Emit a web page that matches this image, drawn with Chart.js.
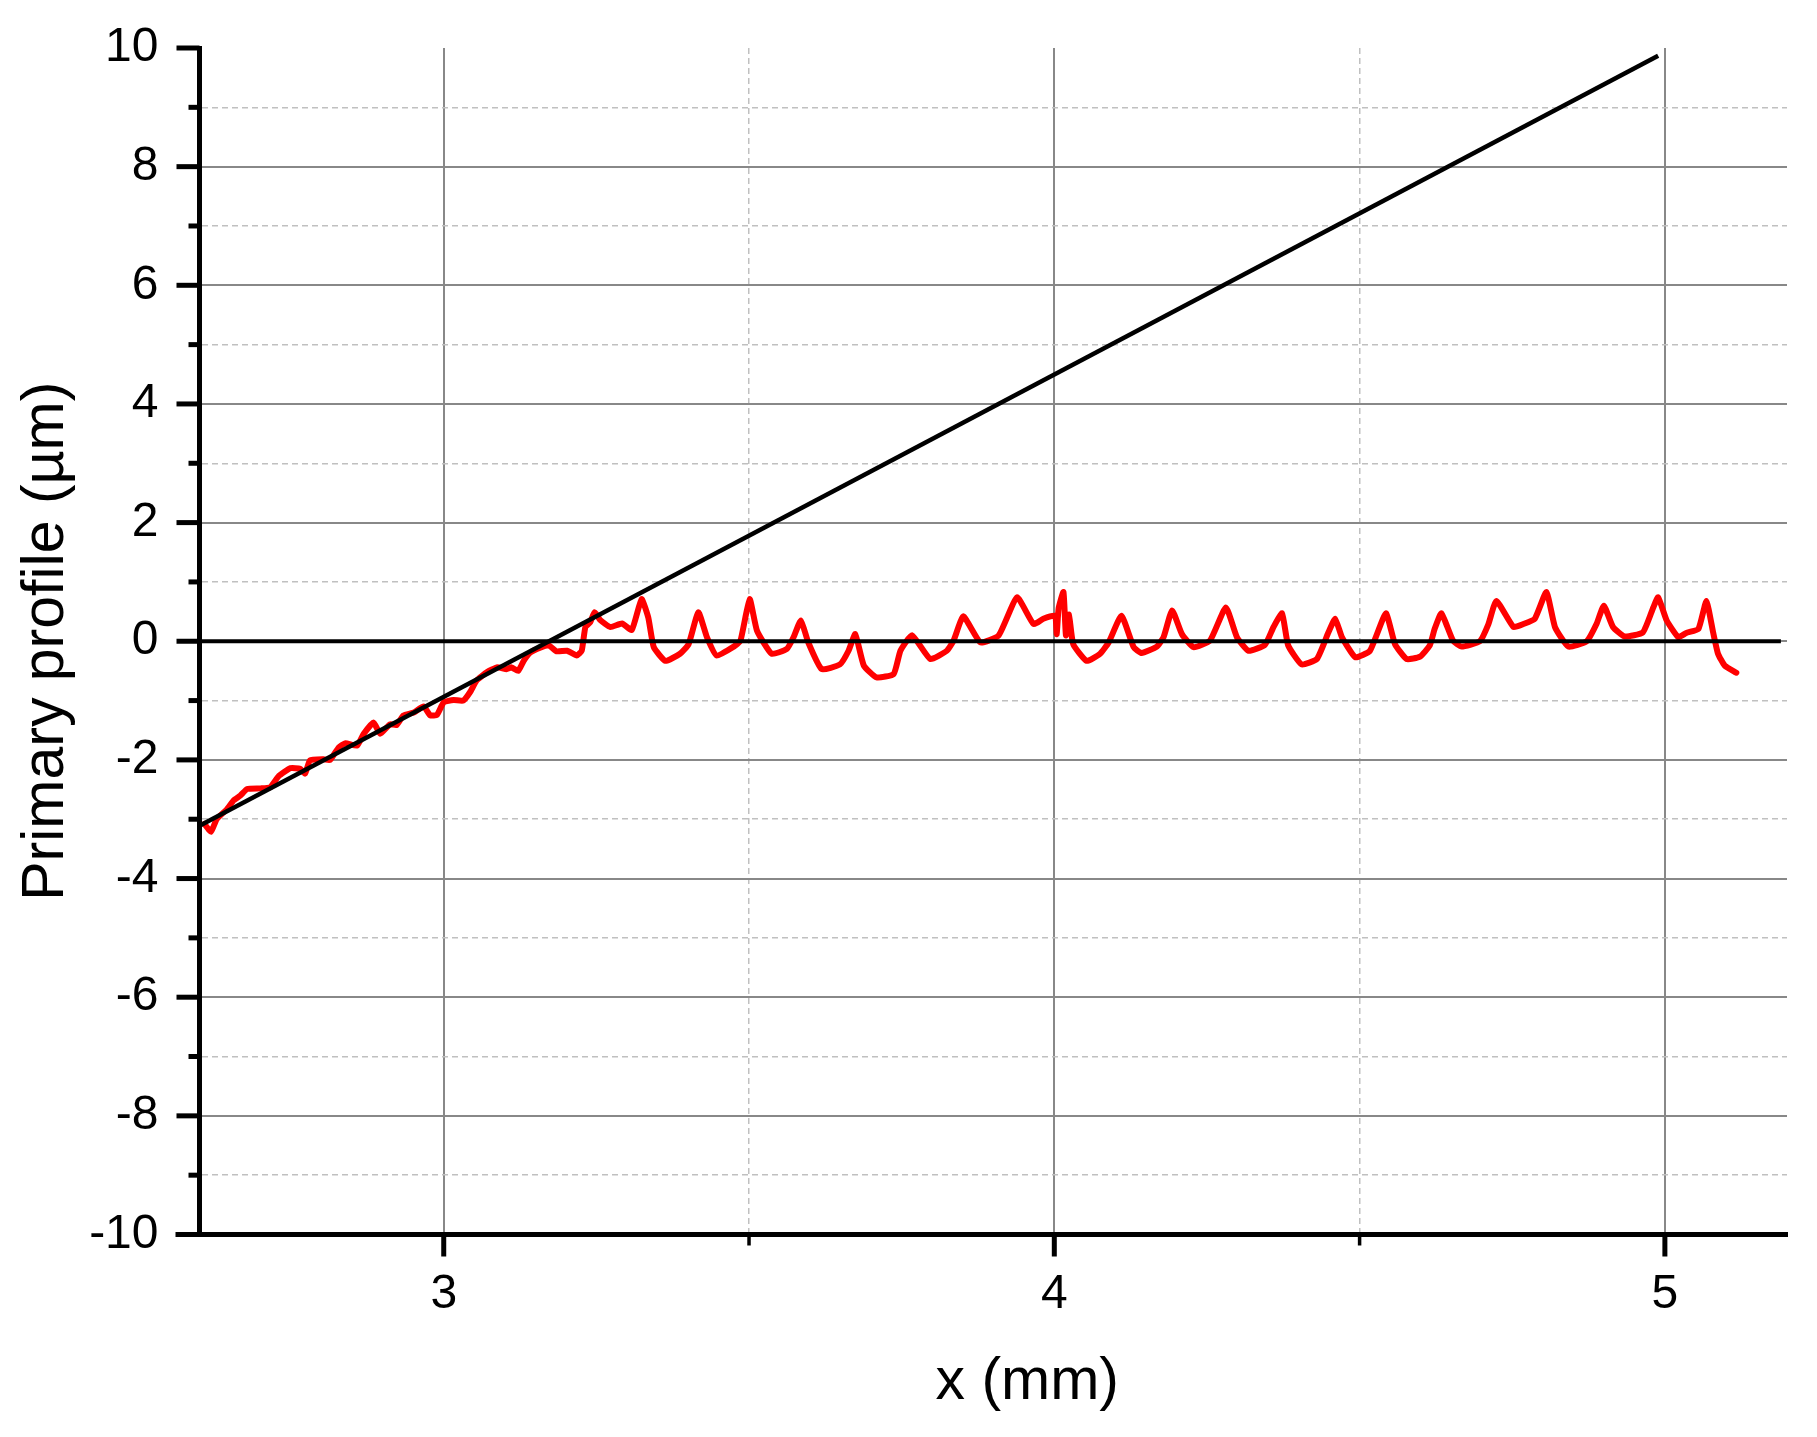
<!DOCTYPE html>
<html>
<head>
<meta charset="utf-8">
<title>Primary profile</title>
<script src="https://cdn.jsdelivr.net/npm/chart.js@4.4.1/dist/chart.umd.min.js"></script>
<style>
    body { margin: 0; background: #fff; }
    #wrap { width: 1817px; height: 1437px; }
</style>
</head>
<body>
<div id="wrap"><canvas id="profileChart"></canvas></div>
<script>
const profileX = [
    2.608, 2.619, 2.628, 2.645, 2.656, 2.667, 2.678, 2.700, 2.716, 2.730,
    2.749, 2.765, 2.773, 2.781, 2.803, 2.814, 2.828, 2.839, 2.858, 2.869,
    2.885, 2.896, 2.912, 2.923, 2.934, 2.951, 2.967, 2.978, 2.989, 3.000,
    3.016, 3.032, 3.043, 3.054, 3.071, 3.087, 3.103, 3.111, 3.122, 3.131,
    3.142, 3.158, 3.172, 3.185, 3.202, 3.218, 3.226, 3.232, 3.240, 3.247,
    3.256, 3.273, 3.292, 3.308, 3.324, 3.335, 3.344, 3.363, 3.387, 3.401,
    3.417, 3.431, 3.447, 3.475, 3.486, 3.501, 3.513, 3.537, 3.562, 3.573,
    3.585, 3.597, 3.619, 3.649, 3.663, 3.674, 3.688, 3.709, 3.737, 3.748,
    3.767, 3.797, 3.824, 3.835, 3.851, 3.879, 3.909, 3.939, 3.966, 3.982,
    4.001, 4.004, 4.007, 4.015, 4.019, 4.024, 4.031, 4.053, 4.075, 4.089,
    4.110, 4.130, 4.143, 4.168, 4.179, 4.193, 4.209, 4.228, 4.255, 4.281,
    4.299, 4.318, 4.345, 4.359, 4.373, 4.383, 4.405, 4.430, 4.449, 4.460,
    4.471, 4.493, 4.517, 4.543, 4.558, 4.577, 4.599, 4.615, 4.623, 4.634,
    4.653, 4.667, 4.697, 4.711, 4.724, 4.752, 4.768, 4.787, 4.806, 4.820,
    4.842, 4.872, 4.888, 4.900, 4.915, 4.934, 4.964, 4.981, 4.989, 5.003,
    5.022, 5.035, 5.055, 5.068, 5.079, 5.087, 5.098, 5.117
];
const profileY = [
    -3.08, -3.21, -3.00, -2.83, -2.68, -2.60, -2.49, -2.48, -2.46, -2.27,
    -2.14, -2.15, -2.23, -2.01, -1.99, -2.00, -1.79, -1.72, -1.76, -1.56,
    -1.37, -1.56, -1.40, -1.41, -1.25, -1.20, -1.10, -1.25, -1.24, -1.03,
    -0.99, -1.00, -0.86, -0.66, -0.52, -0.44, -0.47, -0.44, -0.50, -0.33,
    -0.19, -0.11, -0.07, -0.17, -0.16, -0.24, -0.16, 0.24, 0.32, 0.49,
    0.36, 0.24, 0.30, 0.19, 0.71, 0.40, -0.10, -0.33, -0.21, -0.05,
    0.49, 0.07, -0.24, -0.09, 0.01, 0.71, 0.18, -0.21, -0.13, 0.07,
    0.35, -0.02, -0.47, -0.39, -0.16, 0.12, -0.41, -0.61, -0.55, -0.16,
    0.10, -0.30, -0.16, 0.01, 0.42, -0.02, 0.10, 0.74, 0.29, 0.38,
    0.43, 0.12, 0.55, 0.83, 0.10, 0.45, -0.05, -0.33, -0.21, -0.02,
    0.43, -0.10, -0.20, -0.09, 0.07, 0.52, 0.12, -0.10, 0.01, 0.57,
    0.07, -0.16, -0.06, 0.24, 0.47, -0.07, -0.39, -0.30, 0.15, 0.38,
    0.07, -0.27, -0.16, 0.47, -0.05, -0.30, -0.26, -0.07, 0.21, 0.47,
    0.01, -0.09, 0.00, 0.29, 0.68, 0.24, 0.29, 0.38, 0.83, 0.24,
    -0.09, 0.00, 0.29, 0.60, 0.24, 0.08, 0.15, 0.57, 0.74, 0.35,
    0.07, 0.14, 0.21, 0.68, 0.15, -0.21, -0.41, -0.53
];

// straight fit line and the zero reference line
const fitX = [2.6, 4.989];
const fitY = [-3.11, 9.87];
const baseX = [2.6, 5.19];
const baseY = [0, 0];

const xTickLabels = ['3', '4', '5'];
const yTickLabels = ['-10', '-8', '-6', '-4', '-2', '0', '2', '4', '6', '8', '10'];

const FONT = "'Liberation Sans', Arial, sans-serif";
Chart.defaults.font.family = FONT;
Chart.defaults.color = '#000';

function toPoints(xs, ys) {
    return xs.map((x, i) => ({ x: x, y: ys[i] }));
}

function isWhole(v, step) {
    const r = v / step;
    return Math.abs(r - Math.round(r)) < 1e-6;
}

// ticks of two lengths and the x axis title
const axisExtras = {
    id: 'axisExtras',
    afterDraw(chart) {
        const { ctx, chartArea } = chart;
        const xs = chart.scales.x;
        const ys = chart.scales.y;
        ctx.save();
        ctx.strokeStyle = '#000';
        ctx.lineCap = 'butt';

        ctx.lineWidth = 5;
        ctx.beginPath();
        ctx.moveTo(chartArea.left - 24, chartArea.bottom);
        ctx.lineTo(chartArea.left, chartArea.bottom);
        ctx.stroke();

        ys.ticks.forEach(t => {
            const py = ys.getPixelForValue(t.value);
            const major = isWhole(t.value, 2);
            ctx.lineWidth = 5;
            ctx.beginPath();
            ctx.moveTo(chartArea.left, py);
            ctx.lineTo(chartArea.left - (major ? 23 : 11), py);
            ctx.stroke();
        });

        xs.ticks.forEach(t => {
            const px = xs.getPixelForValue(t.value);
            const major = isWhole(t.value, 1);
            ctx.lineWidth = major ? 5 : 3.5;
            ctx.beginPath();
            ctx.moveTo(px, chartArea.bottom);
            ctx.lineTo(px, chartArea.bottom + (major ? 22 : 11));
            ctx.stroke();
        });

        ctx.fillStyle = '#000';
        ctx.font = '59px ' + FONT;
        ctx.textAlign = 'center';
        ctx.textBaseline = 'middle';
        ctx.fillText('x (mm)', (chartArea.left + chartArea.right) / 2 + 34, 1383);
        ctx.restore();
    }
};

new Chart(document.getElementById('profileChart'), {
    type: 'line',
    data: {
        datasets: [{
            label: 'fit',
            data: toPoints(fitX, fitY),
            borderColor: '#000',
            borderWidth: 4.5,
            pointRadius: 0,
            fill: false
        }, {
            label: 'zero',
            data: toPoints(baseX, baseY),
            borderColor: '#000',
            borderWidth: 4,
            pointRadius: 0,
            fill: false
        }, {
            label: 'profile',
            data: toPoints(profileX, profileY),
            borderColor: '#ff0000',
            borderWidth: 6,
            borderJoinStyle: 'round',
            borderCapStyle: 'round',
            pointRadius: 0,
            tension: 0.15,
            fill: false
        }]
    },
    options: {
        responsive: true,
        maintainAspectRatio: false,
        animation: false,
        layout: {
            padding: { top: 48, right: 30, bottom: 0, left: 0 }
        },
        plugins: {
            legend: { display: false },
            tooltip: { enabled: false }
        },
        scales: {
            x: {
                type: 'linear',
                min: 2.6,
                max: 5.2,
                afterFit: (scale) => {
                    scale.height = 202.5;
                    scale.paddingLeft = 0;
                    scale.paddingRight = 0;
                },
                ticks: {
                    stepSize: 0.5,
                    includeBounds: false,
                    autoSkip: false,
                    maxRotation: 0,
                    padding: 31,
                    font: { size: 48 },
                    callback: (v) => xTickLabels.includes(String(v)) ? String(v) : ''
                },
                grid: {
                    drawTicks: false,
                    color: (c) => isWhole(c.tick.value, 1) ? '#888888' : '#c0c0c0',
                    lineWidth: (c) => isWhole(c.tick.value, 1) ? 2 : 1.5
                },
                border: {
                    display: true,
                    color: '#000',
                    width: 5,
                    dash: (c) => (c.tick && !isWhole(c.tick.value, 1)) ? [6, 4] : []
                }
            },
            y: {
                type: 'linear',
                min: -10,
                max: 10,
                afterFit: (scale) => {
                    scale.width = 199.5;
                    scale.paddingTop = 0;
                    scale.paddingBottom = 0;
                },
                ticks: {
                    stepSize: 1,
                    autoSkip: false,
                    padding: 41,
                    font: { size: 48 },
                    callback: (v) => yTickLabels.includes(String(v)) ? String(v) : ''
                },
                grid: {
                    drawTicks: false,
                    color: (c) => {
                        if (c.tick.value === 10) return 'rgba(0,0,0,0)';
                        return isWhole(c.tick.value, 2) ? '#888888' : '#c0c0c0';
                    },
                    lineWidth: (c) => isWhole(c.tick.value, 2) ? 2 : 1.5
                },
                border: {
                    display: true,
                    color: '#000',
                    width: 5,
                    dash: (c) => (c.tick && !isWhole(c.tick.value, 2)) ? [6, 4] : []
                },
                title: {
                    display: true,
                    text: 'Primary profile (µm)',
                    font: { size: 59 },
                    padding: { top: 11, bottom: 0 }
                }
            }
        }
    },
    plugins: [axisExtras]
});
</script>
</body>
</html>
